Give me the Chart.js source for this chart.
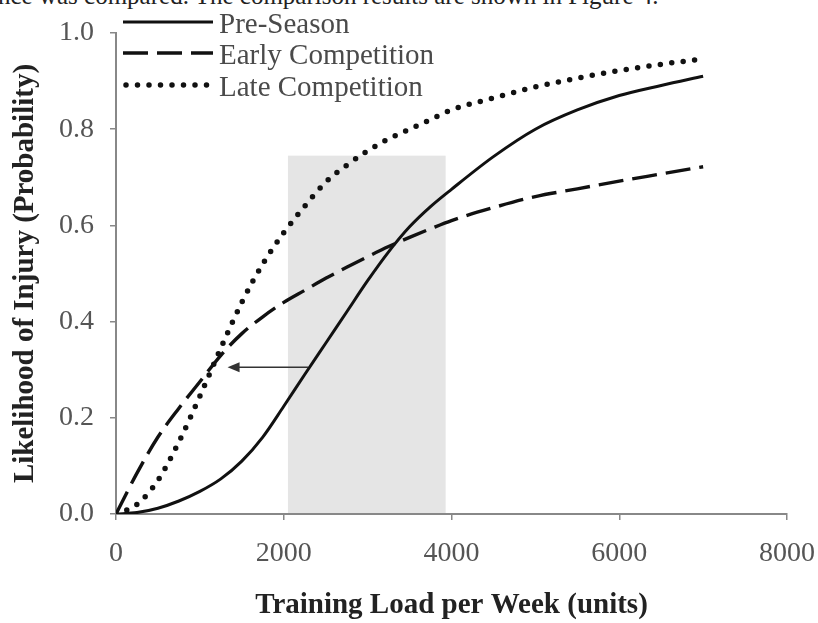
<!DOCTYPE html>
<html>
<head>
<meta charset="utf-8">
<script src="https://cdn.jsdelivr.net/npm/chart.js@4.4.1/dist/chart.umd.min.js"></script>
<style>
    body { margin: 0; background: #fff; }
    #wrap { position: relative; width: 818px; height: 623px; overflow: hidden; }
    #topText { position: absolute; left: -2px; top: -18px; font: 25px "Liberation Serif", serif; color: #222; white-space: nowrap; }
    canvas { position: absolute; left: 0; top: 0; }
</style>
</head>
<body>
<div id="wrap">
    <div id="topText">nce was compared. The comparison results are shown in Figure 4.</div>
    <canvas id="injuryChart" width="818" height="623"></canvas>
</div>
<script>
// Data
const loads      = [0, 250, 500, 750, 1000, 1250, 1500, 1750, 2000, 2250, 2500, 2750, 3000, 3250, 3500, 3750, 4000, 4500, 5000, 5500, 6000, 6500, 7000];
const preSeason  = [0, 0.003, 0.012, 0.027, 0.047, 0.073, 0.11, 0.16, 0.224, 0.29, 0.355, 0.42, 0.485, 0.545, 0.597, 0.639, 0.675, 0.743, 0.80, 0.84, 0.87, 0.891, 0.91];
const earlyComp  = [0, 0.085, 0.16, 0.22, 0.275, 0.33, 0.375, 0.41, 0.44, 0.465, 0.49, 0.513, 0.535, 0.556, 0.575, 0.593, 0.61, 0.637, 0.66, 0.676, 0.692, 0.707, 0.722];
const lateComp   = [0, 0.02, 0.07, 0.15, 0.245, 0.345, 0.44, 0.52, 0.585, 0.64, 0.69, 0.725, 0.755, 0.78, 0.80, 0.82, 0.84, 0.865, 0.888, 0.906, 0.922, 0.935, 0.946];
const seriesNames = ['Pre-Season', 'Early Competition', 'Late Competition'];
const xTickValues = [0, 2000, 4000, 6000, 8000];
const yTickValues = [0, 0.2, 0.4, 0.6, 0.8, 1.0];

// shaded load band and arrow (data units)
const shadeRange = [2050, 3930];
const shadeTop = 0.745;
const arrowFrom = [2290, 0.305];
const arrowTo = [1330, 0.305];

const toPoints = vals => loads.map((x, i) => ({ x: x, y: vals[i] }));

const styles = [
    { borderWidth: 3, borderDash: [], borderCapStyle: 'butt' },
    { borderWidth: 3.4, borderDash: [25, 9], borderCapStyle: 'butt' },
    { borderWidth: 5.5, borderDash: [0, 11.5], borderCapStyle: 'round' }
];

// shaded band + arrow
const annotations = {
    id: 'annotations',
    beforeDatasetsDraw(chart) {
        const { ctx, scales: { x, y } } = chart;
        const left = x.getPixelForValue(shadeRange[0]);
        const right = x.getPixelForValue(shadeRange[1]);
        const top = y.getPixelForValue(shadeTop);
        const bottom = y.getPixelForValue(0) - 1;
        ctx.save();
        ctx.fillStyle = '#e5e5e5';
        ctx.fillRect(left, top, right - left, bottom - top);
        ctx.restore();
    },
    afterDatasetsDraw(chart) {
        const { ctx, scales: { x, y } } = chart;
        const x1 = x.getPixelForValue(arrowFrom[0]);
        const y1 = y.getPixelForValue(arrowFrom[1]);
        const x2 = x.getPixelForValue(arrowTo[0]);
        const y2 = y.getPixelForValue(arrowTo[1]);
        ctx.save();
        ctx.strokeStyle = '#333';
        ctx.fillStyle = '#333';
        ctx.lineWidth = 1.5;
        ctx.beginPath();
        ctx.moveTo(x1, y1);
        ctx.lineTo(x2 + 10, y2);
        ctx.stroke();
        ctx.beginPath();
        ctx.moveTo(x2, y2);
        ctx.lineTo(x2 + 12, y2 - 5);
        ctx.lineTo(x2 + 12, y2 + 5);
        ctx.closePath();
        ctx.fill();
        ctx.restore();
    }
};

// legend drawn in the top-left corner like the original
const lineLegend = {
    id: 'lineLegend',
    afterDraw(chart) {
        const ctx = chart.ctx;
        const rows = [22, 53, 85];
        ctx.save();
        chart.data.datasets.forEach((ds, i) => {
            const yRow = rows[i];
            ctx.strokeStyle = '#111';
            ctx.lineWidth = ds.borderWidth;
            ctx.lineCap = ds.borderCapStyle;
            ctx.setLineDash(ds.borderDash);
            ctx.beginPath();
            ctx.moveTo(i === 2 ? 126 : 123, yRow);
            ctx.lineTo(213, yRow);
            ctx.stroke();
            ctx.setLineDash([]);
            ctx.fillStyle = '#4a4a4a';
            ctx.font = '29px "Liberation Serif"';
            ctx.textBaseline = 'alphabetic';
            ctx.fillText(ds.label, 219, yRow + 10.5);
        });
        ctx.restore();
    }
};

const ctx = document.getElementById('injuryChart');
new Chart(ctx, {
    type: 'line',
    data: {
        datasets: [preSeason, earlyComp, lateComp].map((vals, i) => ({
            label: seriesNames[i],
            data: toPoints(vals),
            borderColor: '#111',
            borderWidth: styles[i].borderWidth,
            borderDash: styles[i].borderDash,
            borderCapStyle: styles[i].borderCapStyle,
            pointRadius: 0,
            fill: false,
            cubicInterpolationMode: 'monotone'
        }))
    },
    options: {
        responsive: false,
        animation: false,
        layout: { padding: { top: 33, right: 31, left: 0, bottom: 0 } },
        plugins: {
            legend: { display: false },
            tooltip: { enabled: false }
        },
        scales: {
            x: {
                type: 'linear',
                min: 0,
                max: 8000,
                afterBuildTicks: s => { s.ticks = xTickValues.map(v => ({ value: v })); },
                afterFit: s => { s.height = 109; s.paddingRight = 0; s.paddingLeft = 0; },
                grid: { drawOnChartArea: false, drawTicks: true, tickLength: 6, color: '#888', lineWidth: 1.5 },
                border: { color: '#888', width: 2 },
                ticks: {
                    color: '#555',
                    padding: 17,
                    maxRotation: 0,
                    font: { family: 'Liberation Serif', size: 28 },
                    callback: v => String(v)
                },
                title: {
                    display: true,
                    text: 'Training Load per Week (units)',
                    color: '#222',
                    padding: { top: 0, bottom: 0 },
                    font: { family: 'Liberation Serif', size: 29, weight: 'bold' }
                }
            },
            y: {
                min: 0,
                max: 1,
                afterBuildTicks: s => { s.ticks = yTickValues.map(v => ({ value: v })); },
                afterFit: s => { s.width = 116; s.paddingTop = 0; s.paddingBottom = 0; },
                grid: { drawOnChartArea: false, drawTicks: true, tickLength: 6, color: '#888', lineWidth: 1.5 },
                border: { color: '#888', width: 2 },
                ticks: {
                    color: '#555',
                    padding: 16,
                    font: { family: 'Liberation Serif', size: 28 },
                    callback: v => Number(v).toFixed(1)
                },
                title: {
                    display: true,
                    text: 'Likelihood of Injury (Probability)',
                    color: '#222',
                    padding: { top: 8, bottom: 0 },
                    font: { family: 'Liberation Serif', size: 29, weight: 'bold' }
                }
            }
        }
    },
    plugins: [annotations, lineLegend]
});
</script>
</body>
</html>
